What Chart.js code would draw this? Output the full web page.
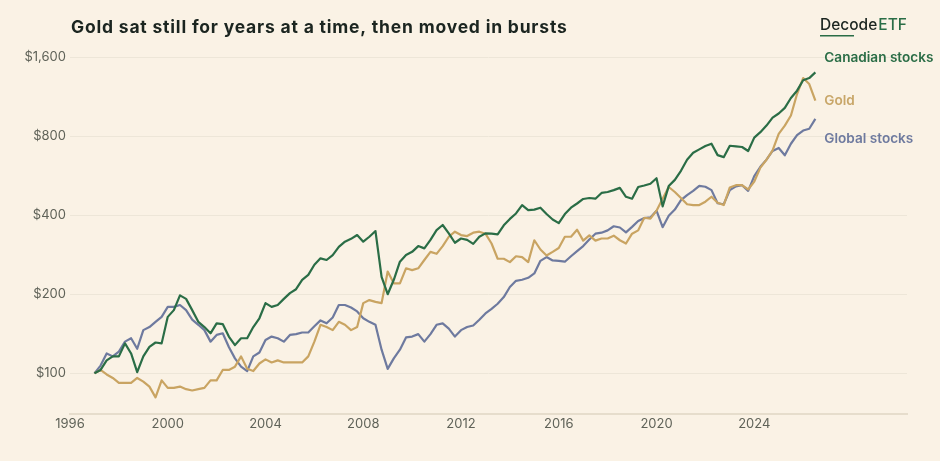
<!DOCTYPE html>
<html>
<head>
<meta charset="utf-8">
<script src="https://cdn.jsdelivr.net/npm/chart.js@4.4.1/dist/chart.umd.min.js"></script>
<style>
  html, body { margin: 0; padding: 0; background: #faf2e5; }
  #wrap { width: 940px; height: 461px; position: relative; }
</style>
</head>
<body>
<div id="wrap"><canvas id="chart"></canvas></div>
<script>
// quarterly observations, growth of $100 invested at the start of 1997
const quarters = [];
for (let q = 0; q < 119; q++) quarters.push(1997 + q / 4);

const canadianStocks = [
  100, 103, 112, 116,   116, 130, 119, 101,   116, 126, 131, 130,
  164, 174, 198, 192,   174, 157, 150, 142,   155, 154, 138, 128,
  136, 136, 150, 162,   185, 179, 182, 192,   202, 209, 227, 237,
  259, 274, 270, 282,   303, 317, 325, 336,   317, 331, 348, 233,
  200, 227, 266, 282,   290, 305, 299, 322,   351, 367, 341, 314,
  326, 322, 311, 331,   341, 340, 338, 366,   387, 406, 437, 418,
  420, 427, 404, 385,   373, 404, 427, 443,   461, 465, 462, 486,
  490, 498, 508, 470,   462, 512, 519, 527,   553, 432, 516, 545,
  590, 650, 691, 712,   733, 748, 677, 665,   735, 731, 727, 702,
  789, 828, 877, 940,   975, 1024, 1117, 1191, 1305, 1330, 1398
];

const gold = [
  100, 103, 99, 96,     92, 92, 92, 96,       93, 89, 81, 94,
  88, 88, 89, 87,       86, 87, 88, 94,       94, 103, 103, 106,
  116, 104, 102, 109,   113, 110, 112, 110,   110, 110, 110, 116,
  132, 153, 150, 146,   157, 153, 146, 150,   185, 190, 187, 185,
  244, 220, 220, 251,   247, 251, 270, 290,   285, 305, 331, 346,
  336, 333, 343, 346,   340, 312, 273, 273,   265, 279, 277, 265,
  321, 296, 281, 290,   300, 331, 331, 352,   320, 335, 320, 326,
  326, 334, 321, 312,   340, 350, 391, 388,   416, 462, 512, 490,
  465, 440, 437, 437,   450, 470, 446, 437,   510, 520, 520, 501,
  537, 607, 650, 706,   816, 877, 958, 1157,  1330, 1262, 1092
];

const globalStocks = [
  100, 107, 119, 116,   121, 132, 136, 124,   146, 150, 157, 164,
  179, 179, 182, 174,   160, 153, 146, 132,   140, 142, 126, 114,
  106, 102, 116, 120,   134, 138, 136, 132,   140, 141, 143, 143,
  151, 159, 155, 163,   182, 182, 178, 172,   162, 157, 153, 123,
  104, 114, 123, 137,   138, 141, 132, 141,   153, 155, 148, 138,
  146, 150, 152, 160,   169, 176, 184, 195,   213, 225, 227, 231,
  240, 268, 277, 269,   268, 266, 279, 292,   305, 323, 340, 343,
  350, 363, 359, 344,   361, 380, 390, 392,   416, 360, 398, 420,
  456, 477, 495, 517,   513, 498, 444, 440,   498, 515, 520, 495,
  563, 611, 651, 702,   721, 676, 748, 806,   840, 853, 930
];

const yTicks = [100, 200, 400, 800, 1600];
const xTicks = [1996, 2000, 2004, 2008, 2012, 2016, 2020, 2024];

const GREEN = "#2a6d46";
const GOLD = "#c9a462";
const BLUE = "#6e7a9f";
const TEXT = "#5f6258";

function series(values) {
  return values.map((v, i) => ({ x: quarters[i], y: v }));
}

// title, logo and series names at the line ends
const decorations = {
  id: "decorations",
  afterDraw(chart) {
    const ctx = chart.ctx;
    const y = chart.scales.y;
    const x = chart.scales.x;
    ctx.save();
    ctx.textBaseline = "middle";
    ctx.textAlign = "left";

    ctx.fillStyle = "#1b2520";
    ctx.font = "bold 17.5px Inter, 'DejaVu Sans', sans-serif";
    ctx.letterSpacing = "0.8px";
    ctx.fillText("Gold sat still for years at a time, then moved in bursts", 71, 28);
    ctx.letterSpacing = "0px";

    ctx.font = "500 15.5px Inter, sans-serif";
    ctx.fillStyle = "#1b2520";
    ctx.fillText("Decode", 820, 25);
    const w = ctx.measureText("Decode").width;
    ctx.fillStyle = GREEN;
    ctx.fillText("ETF", 820 + w + 1, 25);
    ctx.fillRect(820, 35, 34, 1.5);

    const labelX = x.getPixelForValue(quarters[quarters.length - 1]) + 9;
    const names = [
      ["Canadian stocks", canadianStocks, GREEN, -14],
      ["Gold", gold, "#c8a668", 0],
      ["Global stocks", globalStocks, BLUE, 20]
    ];
    ctx.font = "600 13.6px Inter, sans-serif";
    names.forEach(([name, vals, color, nudge]) => {
      ctx.fillStyle = color;
      ctx.fillText(name, labelX, y.getPixelForValue(vals[vals.length - 1]) + nudge);
    });
    ctx.restore();
  }
};

new Chart(document.getElementById("chart"), {
  type: "line",
  data: {
    datasets: [
      { label: "Canadian stocks", data: series(canadianStocks), borderColor: GREEN },
      { label: "Gold", data: series(gold), borderColor: GOLD },
      { label: "Global stocks", data: series(globalStocks), borderColor: BLUE }
    ]
  },
  options: {
    responsive: true,
    maintainAspectRatio: false,
    animation: false,
    layout: { padding: { top: 57, right: 33, left: 0, bottom: 0 } },
    elements: {
      line: { borderWidth: 2.2, tension: 0, borderJoinStyle: "round" },
      point: { radius: 0 }
    },
    plugins: {
      legend: { display: false },
      tooltip: { enabled: false }
    },
    scales: {
      x: {
        type: "linear",
        min: 1996,
        max: 2030.25,
        afterBuildTicks: s => { s.ticks = xTicks.map(v => ({ value: v })); },
        afterFit: s => { s.height = 47; },
        grid: { display: false, drawTicks: false },
        border: { display: true, color: "#e6ddcc", width: 2 },
        ticks: {
          padding: 2,
          color: TEXT,
          font: { family: "Inter", size: 13 },
          maxRotation: 0,
          callback: v => String(v)
        }
      },
      y: {
        type: "logarithmic",
        min: 70,
        max: 1600,
        afterBuildTicks: s => { s.ticks = yTicks.map(v => ({ value: v })); },
        afterFit: s => { s.width = 70; },
        grid: { color: "#ede6d8", lineWidth: 1, drawTicks: false },
        border: { display: false },
        ticks: {
          padding: 4,
          color: TEXT,
          font: { family: "Inter", size: 13 },
          callback: v => "$" + v.toLocaleString("en-US")
        }
      }
    }
  },
  plugins: [decorations]
});
</script>
</body>
</html>
